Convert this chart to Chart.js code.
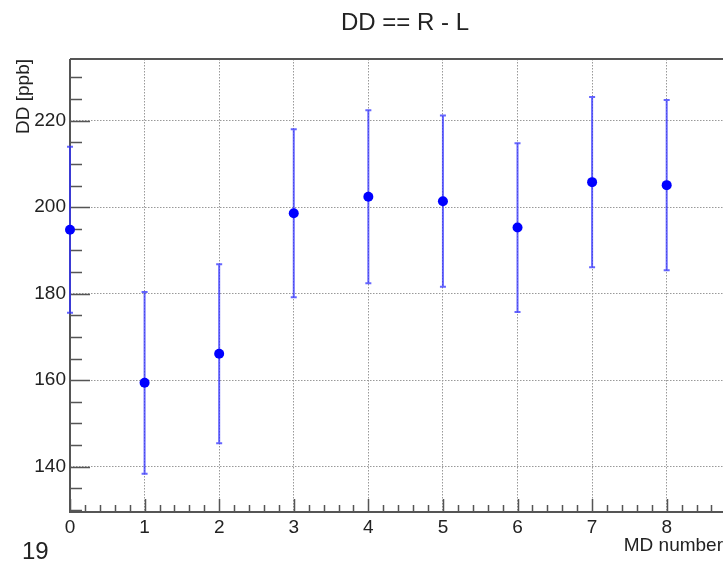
<!DOCTYPE html>
<html lang="en">
<head>
<meta charset="UTF-8">
<title>DD == R - L</title>
<script src="https://cdn.jsdelivr.net/npm/chart.js@4.4.0/dist/chart.umd.min.js"></script>
<style>
  html, body { margin: 0; padding: 0; background: #fff; }
</style>
</head>
<body>
<canvas id="ddChart" width="728" height="561"></canvas>
<script>
// DD per MD, with errors
const mdNumbers = [0, 1, 2, 3, 4, 5, 6, 7, 8];
const ddValues  = [194.8, 159.4, 166.1, 198.6, 202.4, 201.4, 195.3, 205.8, 205.1];
const ddErrors  = [19.2, 21.0, 20.7, 19.4, 20.0, 19.8, 19.5, 19.7, 19.7];

// axis ranges and tick steps
const xRange = [0, 8.755];
const yRange = [129.53, 234.27];
const xMajorStep = 1, xMinorStep = 0.2;
const yMajorStep = 20, yMinorStep = 5;

const titleText = 'DD == R - L';
const pageNumber = '19';
const FONT = '"Liberation Sans", Arial, Helvetica, sans-serif';

// ROOT-like frame: axes, top line, inward ticks
const rootFrame = {
  id: 'rootFrame',
  beforeDatasetsDraw(chart) {
    const { ctx, chartArea: a, scales: { x, y } } = chart;
    ctx.save();
    ctx.strokeStyle = '#555';
    ctx.lineWidth = 2;
    ctx.beginPath();
    ctx.moveTo(a.left, a.top); ctx.lineTo(a.right, a.top);
    ctx.moveTo(a.left, a.top); ctx.lineTo(a.left, a.bottom); ctx.lineTo(a.right, a.bottom);
    ctx.stroke();

    ctx.lineWidth = 1.5;
    ctx.beginPath();
    for (let k = Math.ceil(x.min / xMinorStep); k * xMinorStep <= x.max; k++) {
      const v = k * xMinorStep;
      const major = Math.abs(v / xMajorStep - Math.round(v / xMajorStep)) < 1e-6;
      const px = Math.round(x.getPixelForValue(v)) + 0.5;
      ctx.moveTo(px, a.bottom);
      ctx.lineTo(px, a.bottom - (major ? 13 : 7));
    }
    for (let k = Math.ceil(y.min / yMinorStep); k * yMinorStep <= y.max; k++) {
      const v = k * yMinorStep;
      const major = v % yMajorStep === 0;
      const py = Math.round(y.getPixelForValue(v)) + 0.5;
      ctx.moveTo(a.left, py);
      ctx.lineTo(a.left + (major ? 20 : 12), py);
    }
    ctx.stroke();
    ctx.restore();
  }
};

// vertical error bars with small caps
const errorBars = {
  id: 'errorBars',
  beforeDatasetsDraw(chart) {
    const { ctx, scales: { x, y } } = chart;
    ctx.save();
    ctx.strokeStyle = 'rgba(50, 50, 255, 0.75)';
    ctx.lineWidth = 2;
    ctx.beginPath();
    mdNumbers.forEach((md, i) => {
      const px = x.getPixelForValue(md);
      const top = y.getPixelForValue(ddValues[i] + ddErrors[i]);
      const bot = y.getPixelForValue(ddValues[i] - ddErrors[i]);
      ctx.moveTo(px, top); ctx.lineTo(px, bot);
      ctx.moveTo(px - 3, top); ctx.lineTo(px + 3, top);
      ctx.moveTo(px - 3, bot); ctx.lineTo(px + 3, bot);
    });
    ctx.stroke();
    ctx.restore();
  }
};

// title and page number
const pageText = {
  id: 'pageText',
  afterDraw(chart) {
    const { ctx } = chart;
    ctx.save();
    ctx.fillStyle = '#222';
    ctx.textBaseline = 'alphabetic';
    ctx.font = '24px ' + FONT;
    ctx.textAlign = 'center';
    ctx.fillText(titleText, 405, 30);
    ctx.textAlign = 'left';
    ctx.fillText(pageNumber, 22, 559);
    ctx.restore();
  }
};

const gridStyle = { color: '#999', lineWidth: 1, drawTicks: false };

new Chart(document.getElementById('ddChart'), {
  type: 'scatter',
  data: {
    datasets: [{
      data: mdNumbers.map((md, i) => ({ x: md, y: ddValues[i] })),
      backgroundColor: '#0000ff',
      borderWidth: 0,
      pointRadius: 5,
      clip: false
    }]
  },
  options: {
    responsive: false,
    animation: false,
    devicePixelRatio: 1,
    layout: { padding: { top: 59, left: 0, right: 0, bottom: 0 } },
    plugins: { legend: { display: false }, tooltip: { enabled: false }, title: { display: false } },
    scales: {
      x: {
        type: 'linear',
        min: xRange[0], max: xRange[1],
        grid: gridStyle,
        border: { display: false, dash: [1.5, 1.5] },
        ticks: { stepSize: xMajorStep, includeBounds: false, padding: 4, color: '#222', font: { family: FONT, size: 19 } },
        title: { display: true, text: 'MD number', align: 'end', color: '#222', padding: { top: 0, bottom: 4 }, font: { family: FONT, size: 19 } },
        afterFit(scale) { scale.height = 49; }
      },
      y: {
        type: 'linear',
        min: yRange[0], max: yRange[1],
        grid: gridStyle,
        border: { display: false, dash: [1.5, 1.5] },
        ticks: { stepSize: yMajorStep, includeBounds: false, padding: 4, color: '#222', font: { family: FONT, size: 19 } },
        title: { display: true, text: 'DD [ppb]', align: 'end', color: '#222', padding: { top: 12, bottom: 0 }, font: { family: FONT, size: 19 } },
        afterFit(scale) { scale.width = 70; }
      }
    }
  },
  plugins: [rootFrame, errorBars, pageText]
});
</script>
</body>
</html>
